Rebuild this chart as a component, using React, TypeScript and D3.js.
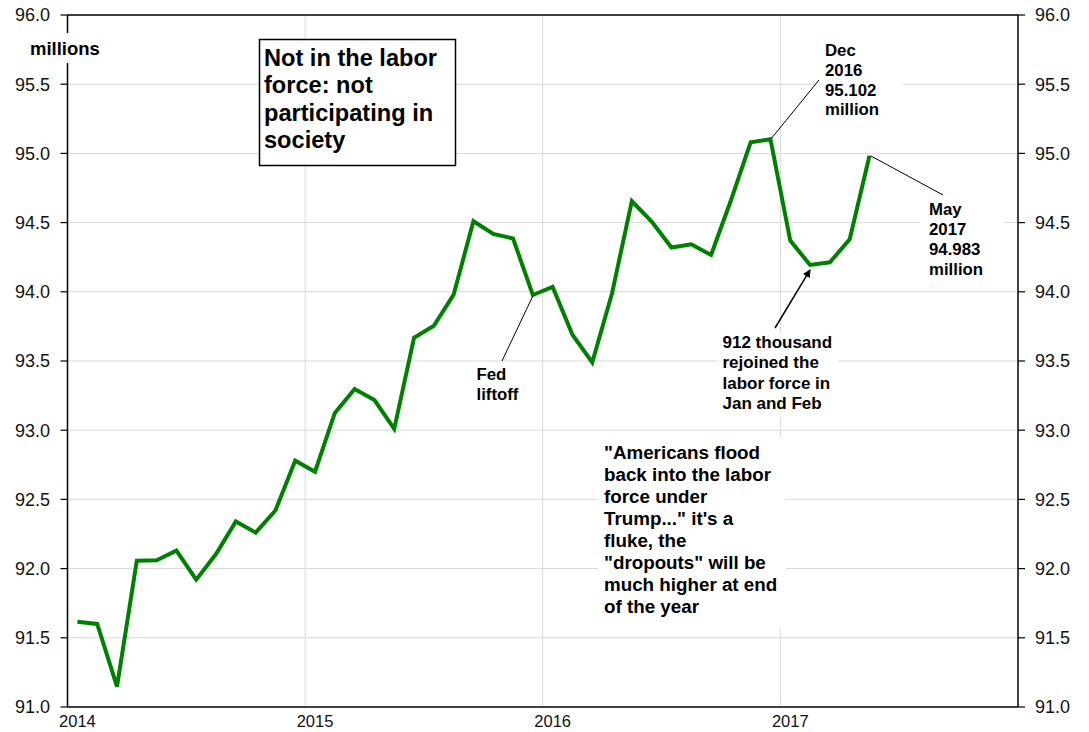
import React from "react";
import * as d3 from "d3";

const startYear = 2014;
const values: number[] = [
  // 2014
  91.616, 91.6, 91.147, 92.057, 92.06, 92.13, 91.92, 92.105, 92.34, 92.26, 92.42, 92.78,
  // 2015
  92.7, 93.125, 93.298, 93.218, 93.01, 93.668, 93.755, 93.98, 94.51, 94.418, 94.385, 93.977,
  // 2016
  94.035, 93.69, 93.49, 93.99, 94.656, 94.507, 94.32, 94.343, 94.266, 94.66, 95.08, 95.102,
  // 2017
  94.37, 94.194, 94.213, 94.38, 94.983,
];
const yTicks = [91.0, 91.5, 92.0, 92.5, 93.0, 93.5, 94.0, 94.5, 95.0, 95.5, 96.0];
const yearLabels = [2014, 2015, 2016, 2017];
const yearGrid = [2015, 2016, 2017];

const titleLines = ["Not in the labor", "force: not", "participating in", "society"];
const decLines = ["Dec", "2016", "95.102", "million"];
const mayLines = ["May", "2017", "94.983", "million"];
const fedLines = ["Fed", "liftoff"];
const rejoinLines = ["912 thousand", "rejoined the", "labor force in", "Jan and Feb"];
const quoteLines = [
  "\"Americans flood",
  "back into the labor",
  "force under",
  "Trump...\" it's a",
  "fluke, the",
  "\"dropouts\" will be",
  "much higher at end",
  "of the year",
];

const W = 1089;
const H = 732;
const L = 67.5;
const R = 1018;
const T = 15;
const B = 707;
const FONT = "'Liberation Sans', Arial, sans-serif";
const GREEN = "#008000";
const GRID = "#d9d9d9";

export default function App() {
  const x = d3.scaleLinear().domain([2014, 2018]).range([L, R]);
  const y = d3.scaleLinear().domain([91, 96]).range([B, T]);
  const tOf = (i: number) => startYear + (i + 0.5) / 12;
  const line = d3
    .line<number>()
    .x((_, i) => x(tOf(i)))
    .y((d) => y(d));

  const decIdx = 35;
  const mayIdx = 40;
  const fedIdx = 23;
  const febIdx = 37;

  const multi = (lines: string[], x0: number, y0: number, lh: number, size: number) => (
    <text x={x0} y={y0} fontFamily={FONT} fontWeight="bold" fontSize={size} fill="#000">
      {lines.map((l, i) => (
        <tspan key={i} x={x0} y={y0 + i * lh}>
          {l}
        </tspan>
      ))}
    </text>
  );

  return (
    <svg
      width={W}
      height={H}
      style={{ position: "absolute", left: 0, top: 0, background: "#fff" }}
    >
      <defs>
        <marker id="arr" viewBox="0 0 10 10" refX="9" refY="5" markerWidth="8" markerHeight="8" orient="auto-start-reverse" markerUnits="userSpaceOnUse">
          <path d="M0,0 L10,5 L0,10 z" fill="#000" />
        </marker>
      </defs>
      <rect x={0} y={0} width={W} height={H} fill="#fff" />
      {/* grid */}
      {yTicks.slice(1, -1).map((t) => (
        <line key={"gy" + t} x1={L} x2={R} y1={y(t)} y2={y(t)} stroke={GRID} strokeWidth={1} />
      ))}
      {yearGrid.map((yr) => (
        <line key={"gx" + yr} x1={x(yr)} x2={x(yr)} y1={T} y2={B} stroke={GRID} strokeWidth={1} />
      ))}

      {/* white backgrounds for annotations */}
      <rect x={815} y={38} width={88} height={84} fill="#fff" />
      <rect x={920} y={198} width={84} height={84} fill="#fff" />
      <rect x={474} y={364} width={56} height={44} fill="#fff" />
      <rect x={598} y={437} width={188} height={192} fill="#fff" />
      <rect x={718} y={333} width={120} height={84} fill="#fff" />

      {/* frame */}
      <line x1={L} x2={L} y1={T} y2={B} stroke="#000" strokeWidth={1.5} />
      <line x1={R} x2={R} y1={T} y2={B} stroke="#000" strokeWidth={1.5} />
      <line x1={L} x2={R} y1={T} y2={T} stroke="#000" strokeWidth={1.5} />
      <line x1={L} x2={R} y1={B} y2={B} stroke="#000" strokeWidth={1.5} />

      {/* y ticks and labels */}
      {yTicks.map((t) => (
        <g key={"yt" + t}>
          <line x1={L - 7} x2={L} y1={y(t)} y2={y(t)} stroke="#000" strokeWidth={1.2} />
          <line x1={R} x2={R + 7} y1={y(t)} y2={y(t)} stroke="#000" strokeWidth={1.2} />
          <text x={50} y={y(t)} dy="0.36em" textAnchor="end" fontFamily={FONT} fontSize={18} fill="#111">
            {t.toFixed(1)}
          </text>
          <text x={1035} y={y(t)} dy="0.36em" textAnchor="start" fontFamily={FONT} fontSize={18} fill="#111">
            {t.toFixed(1)}
          </text>
        </g>
      ))}

      {/* x labels */}
      {yearLabels.map((yr) => (
        <text key={"xl" + yr} x={x(yr + 0.5 / 12)} y={727} textAnchor="middle" fontFamily={FONT} fontSize={16.5} fill="#111">
          {yr}
        </text>
      ))}

      {/* millions label */}
      <rect x={28} y={33} width={76} height={30} fill="#fff" />
      <text x={30} y={55} fontFamily={FONT} fontWeight="bold" fontSize={18.5} fill="#000">
        millions
      </text>

      {/* data line */}
      <path d={line(values) || ""} fill="none" stroke={GREEN} strokeWidth={4} strokeLinejoin="miter" />

      {/* title box */}
      <rect x={259.5} y={39.5} width={196} height={126} fill="#fff" stroke="#000" strokeWidth={1.5} />
      {multi(titleLines, 264, 66, 27.3, 23.6)}

      {/* Dec 2016 annotation */}
      <line x1={x(tOf(decIdx)) + 1} y1={y(values[decIdx]) - 1} x2={819} y2={80} stroke="#000" strokeWidth={1} />
      {multi(decLines, 825, 56, 19.8, 16.8)}

      {/* May 2017 annotation */}
      <line x1={x(tOf(mayIdx)) + 1} y1={y(values[mayIdx])} x2={943} y2={195} stroke="#000" strokeWidth={1} />
      {multi(mayLines, 929, 215, 20, 16.8)}

      {/* Fed liftoff */}
      <line x1={x(tOf(fedIdx))} y1={y(values[fedIdx]) + 1} x2={502} y2={361} stroke="#000" strokeWidth={1} />
      {multi(fedLines, 476.5, 380, 20, 16.8)}

      {/* 912 thousand */}
      <line x1={775} y1={328} x2={x(tOf(febIdx))} y2={y(values[febIdx]) + 5} stroke="#000" strokeWidth={1.5} markerEnd="url(#arr)" />
      {multi(rejoinLines, 722.5, 348, 20.3, 17)}

      {/* quote */}
      {multi(quoteLines, 604, 459, 22, 18.8)}
    </svg>
  );
}
